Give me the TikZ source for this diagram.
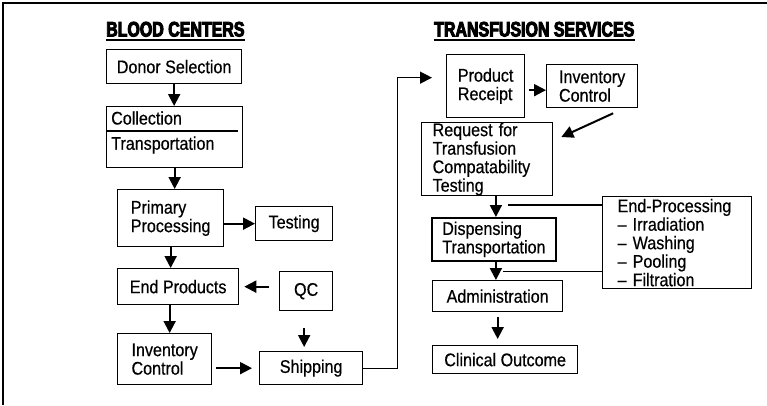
\documentclass[tikz,border=0pt]{standalone}
\usepackage{fontspec}
\setmainfont{Liberation Sans}[FakeStretch=0.88,FakeBold=0.5]
\newfontfamily\headfont{Liberation Sans}[FakeStretch=0.76,FakeBold=4.5]
\usetikzlibrary{arrows.meta}

\def\boxline{1.3pt}

\begin{document}
\begin{tikzpicture}[x=1pt,y=-1pt,
    font=\fontsize{18.3pt}{18.5pt}\selectfont,
    box/.style={draw,line width=\boxline,anchor=north west,inner sep=0pt,align=center},
    head/.style={anchor=base west,inner sep=0pt,
      font=\headfont\bfseries\fontsize{21pt}{24pt}\selectfont},
    label/.style={anchor=west,inner sep=0pt},
    arr/.style={line width=2pt,-{Triangle[length=12pt,width=12pt]}},
    rule/.style={line width=\boxline}]

  \useasboundingbox (0,0) rectangle (767,405);
  \draw[rule] (3,405) -- (3,3) -- (767,3);

  \node[head] (bchead) at (106,36.5) {BLOOD CENTERS};
  \node[head] (tshead) at (434,36.5) {TRANSFUSION SERVICES};
  \draw[rule] ([yshift=-3.5pt]bchead.base west) -- ([yshift=-3.5pt]bchead.base east);
  \draw[rule] ([yshift=-3.5pt]tshead.base west) -- ([yshift=-3.5pt]tshead.base east);

  \node[box,minimum width=135pt,minimum height=34pt] (donor) at (106,49) {Donor Selection};
  \node[box,minimum width=136pt,minimum height=61pt] (collect) at (106,106) {};
  \node[label] (colltxt) at (111,118) {Collection};
  \node[label] (transtxt) at (111,145) {Transportation};
  \draw[rule] ([yshift=-25pt]collect.north west) -- ([xshift=-5pt,yshift=-25pt]collect.north east);
  \node[box,minimum width=106pt,minimum height=57pt,align=left] (primary) at (117,189)
    {Primary\\Processing};
  \node[box,minimum width=77pt,minimum height=34pt] (testing) at (255,206) {Testing};
  \node[box,minimum width=121pt,minimum height=36pt] (endprod) at (117,268) {End Products};
  \node[box,minimum width=53pt,minimum height=39pt] (qc) at (279,271) {QC};
  \node[box,minimum width=94pt,minimum height=51pt,align=left] (invbc) at (117,333)
    {Inventory\\Control};
  \node[box,minimum width=103pt,minimum height=33pt] (shipping) at (259,351) {Shipping};

  \node[box,minimum width=78pt,minimum height=63pt,align=left] (receipt) at (446,54)
    {Product\\Receipt};
  \node[box,minimum width=91pt,minimum height=43pt,align=left] (invts) at (546,64)
    {Inventory\\Control};
  \node[box,minimum height=73pt,text width=109pt,inner xsep=11pt,align=left] (request)
    at (421,122) {Request for\\Transfusion\\Compatability\\Testing};
  \node[box,line width=1.8pt,minimum width=124pt,minimum height=43pt,align=left] (dispense)
    at (431,217) {Dispensing\\Transportation};
  \node[box,minimum width=130pt,minimum height=31pt] (admin) at (432,280) {Administration};
  \node[box,minimum width=145pt,minimum height=28pt] (clinical) at (432,345) {Clinical Outcome};
  \node[box,minimum height=92pt,text width=119pt,inner xsep=15pt,align=left] (endproc)
    at (602,196) {End-Processing\\\textendash{} Irradiation\\\textendash{} Washing\\
    \textendash{} Pooling\\\textendash{} Filtration};

  \draw[arr] (donor.south) -- (donor.south |- collect.north);
  \draw[arr] (collect.south) -- (collect.south |- primary.north);
  \draw[arr] (primary.east |- testing.west) -- (testing.west);
  \draw[arr] (primary.south) -- (primary.south |- endprod.north);
  \draw[arr,shorten <=10pt,shorten >=5pt] (qc.west |- endprod.east) -- (endprod.east);
  \draw[arr] ([xshift=-8.5pt]endprod.south) -- ([xshift=-8.5pt]endprod.south |- invbc.north);
  \draw[arr,shorten <=17pt,shorten >=4pt] ([xshift=-2pt]qc.south)
    -- ([xshift=-2pt]qc.south |- shipping.north);
  \draw[arr,shorten <=4pt,shorten >=7pt] (shipping.west -| invbc.east) -- (shipping.west);
  \draw[rule,-{Triangle[length=12pt,width=12pt]},shorten >=14pt] (shipping.east) -- ++(34,0)
    |- ([yshift=8.5pt]receipt.west);

  \draw[arr,shorten <=4pt] ([yshift=-4pt]receipt.east) -- ([yshift=-4pt]receipt.east -| invts.west);
  \draw[arr] ([xshift=21pt,yshift=-5pt]invts.south) -- ([xshift=8pt,yshift=-15pt]request.north east);
  \draw[arr] ([xshift=2pt]dispense.north |- request.south) -- ([xshift=2pt]dispense.north);
  \draw[arr] ([xshift=2pt]dispense.south) -- ([xshift=2pt]dispense.south |- admin.north);
  \draw[arr,shorten <=5pt,shorten >=6pt] (admin.south) -- (admin.south |- clinical.north);
  \draw[rule] ([yshift=-9pt]endproc.north west) -- ++(-94,0);
  \draw[rule] ([yshift=18pt]endproc.south west) -- ++(-99,0);
\end{tikzpicture}
\end{document}
